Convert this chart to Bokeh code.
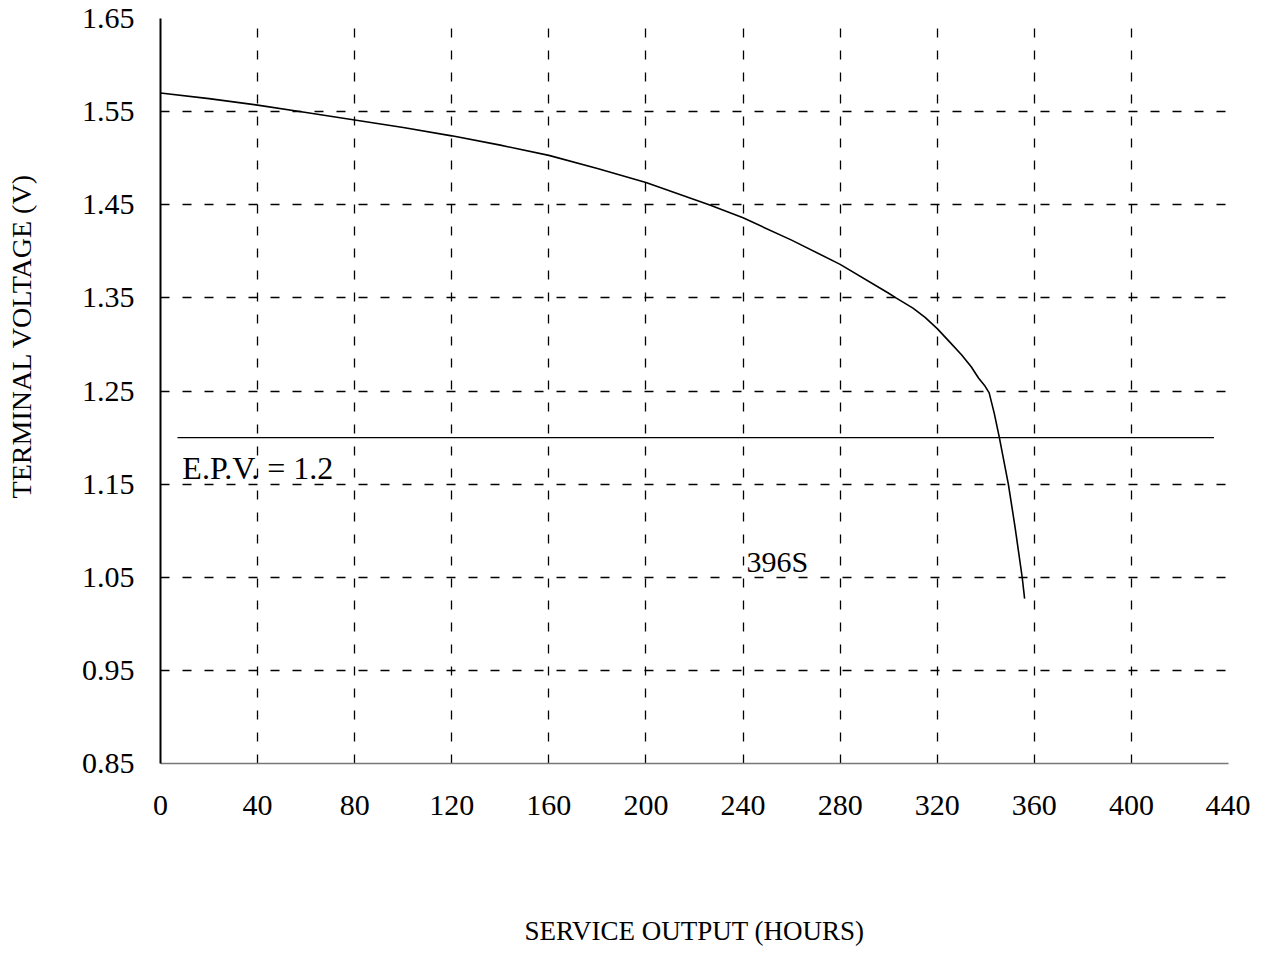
from bokeh.plotting import figure
from bokeh.models import Range1d, FixedTicker, PrintfTickFormatter, Label, Title
from bokeh.embed import file_html
from bokeh.resources import INLINE

# ---- data ----
hours = [0, 20, 40, 60, 80, 100, 120, 140, 160, 180, 200, 226, 240, 260, 280,
         300, 303, 310, 315, 320, 325, 330, 334, 337, 339.5, 341.4, 343.5,
         345.6, 349.3, 352, 355, 356]
volts = [1.570, 1.564, 1.557, 1.549, 1.541, 1.533, 1.524, 1.514, 1.503, 1.489,
         1.474, 1.450, 1.436, 1.412, 1.386, 1.355, 1.350, 1.339, 1.329, 1.317,
         1.303, 1.289, 1.276, 1.264, 1.256, 1.248, 1.226, 1.200, 1.150, 1.105,
         1.050, 1.027]
epv_hours = [7, 434]
epv_volts = [1.2, 1.2]
x_ticks = [0, 40, 80, 120, 160, 200, 240, 280, 320, 360, 400, 440]
y_ticks = [0.85, 0.95, 1.05, 1.15, 1.25, 1.35, 1.45, 1.55, 1.65]
x_title = "SERVICE OUTPUT (HOURS)"
y_title = "TERMINAL VOLTAGE (V)"
epv_text = "E.P.V. = 1.2"
series_text = "396S"

FONT = "Liberation Serif"

p = figure(width=1250, height=948, output_backend="svg", toolbar_location=None,
           x_range=Range1d(0, 440), y_range=Range1d(0.85, 1.65),
           min_border_left=160, min_border_right=22, min_border_top=18,
           min_border_bottom=181)
p.outline_line_color = None
p.background_fill_color = "white"
p.border_fill_color = "white"

# axes
p.xaxis.ticker = FixedTicker(ticks=x_ticks)
p.yaxis.ticker = FixedTicker(ticks=y_ticks)
p.yaxis.formatter = PrintfTickFormatter(format="%.2f")
for ax in (p.xaxis[0], p.yaxis[0]):
    ax.major_tick_line_color = None
    ax.minor_tick_line_color = None
    ax.major_label_text_font = FONT
    ax.major_label_text_font_size = "30px"
    ax.major_label_text_color = "black"
p.xaxis.major_label_standoff = 26
p.yaxis.major_label_standoff = 20
p.yaxis.axis_line_color = "black"
p.yaxis.axis_line_width = 2
p.xaxis.axis_line_color = "#777777"
p.xaxis.axis_line_width = 1.5
# blank spacer label so the y title sits near the page edge
p.yaxis.axis_label = "\u00a0"
p.yaxis.axis_label_text_font_size = "10px"
p.yaxis.axis_label_standoff = 21

p.xaxis.axis_label = x_title
p.xaxis.axis_label_text_font = FONT
p.xaxis.axis_label_text_font_size = "27px"
p.xaxis.axis_label_text_font_style = "normal"
p.xaxis.axis_label_text_color = "black"
p.xaxis.axis_label_standoff = 98

# y-axis title, placed higher than centre like the reference
p.add_layout(Title(text=y_title, align="right", offset=155, standoff=10,
                   vertical_align="top",
                   text_font=FONT, text_font_size="28px",
                   text_font_style="normal", text_color="black"), "left")

# grids
for g in (p.xgrid[0], p.ygrid[0]):
    g.grid_line_color = "black"
    g.grid_line_dash = "9 13"
    g.grid_line_width = 1.3
    g.grid_line_alpha = 1.0

# lines
p.line(hours, volts, line_color="black", line_width=1.6)
p.line(epv_hours, epv_volts, line_color="black", line_width=1.3)

# annotations
p.add_layout(Label(x=9, y=1.167, text=epv_text, text_font=FONT,
                   text_font_size="32px", text_color="black",
                   text_baseline="alphabetic", text_align="left"))
p.add_layout(Label(x=241.4, y=1.067, text=series_text, text_font=FONT,
                   text_font_size="30px", text_color="black",
                   text_baseline="alphabetic", text_align="left"))

open("out.html", "w").write(file_html(p, INLINE))
